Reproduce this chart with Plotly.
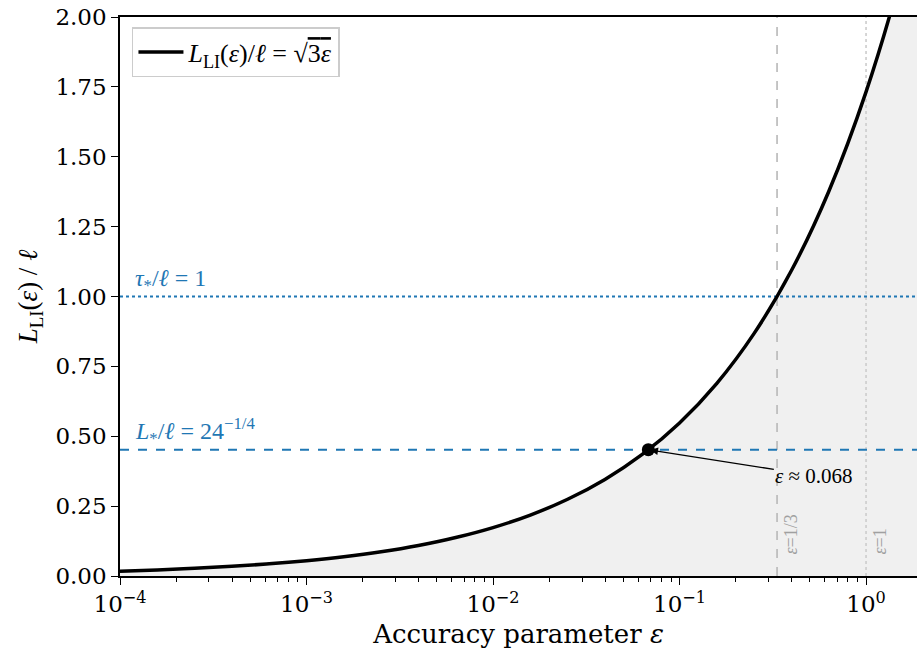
import math
import plotly.graph_objects as go

# ---- data ----
eps = [1.0e-4, 1.585e-4, 2.512e-4, 3.981e-4, 6.310e-4,
       1.0e-3, 1.585e-3, 2.512e-3, 3.981e-3, 6.310e-3,
       1.0e-2, 1.585e-2, 2.512e-2, 3.981e-2, 6.310e-2,
       0.1, 0.1585, 0.2512, 0.3981, 0.6310,
       1.0, 1.585, 2.512]
L_LI = [0.01732, 0.02181, 0.02745, 0.03456, 0.04351,
        0.05477, 0.06895, 0.08681, 0.10928, 0.13758,
        0.17321, 0.21806, 0.27452, 0.34560, 0.43509,
        0.54772, 0.68954, 0.86811, 1.09285, 1.37586,
        1.73205, 2.18060, 2.74500]
tau_level = 1.0
Lstar_level = 0.4518
eps_star = 0.06804
eps_third = 1 / 3
eps_one = 1.0
x_min, x_max = 1e-4, 1.876
y_min, y_max = 0.0, 2.0
y_ticks = [0.0, 0.25, 0.5, 0.75, 1.0, 1.25, 1.5, 1.75, 2.0]
x_ticks = [1e-4, 1e-3, 1e-2, 1e-1, 1e0]
x_ticklabels = ["10<sup>−4</sup>", "10<sup>−3</sup>", "10<sup>−2</sup>",
                "10<sup>−1</sup>", "10<sup>0</sup>"]

BLUE = "#1f77b4"
SERIF = "DejaVu Serif"
MATH = "Liberation Serif"

minor_vals = [m * 10.0 ** k for k in range(-4, 1) for m in range(2, 10)]

fig = go.Figure()

# gray fill under the curve
fig.add_trace(go.Scatter(x=eps, y=L_LI, mode="lines", line=dict(width=0, shape="spline"),
                         fill="tozeroy", fillcolor="#f0f0f0", showlegend=False,
                         hoverinfo="skip"))
# vertical reference lines
fig.add_trace(go.Scatter(x=[eps_third, eps_third], y=[y_min, y_max], mode="lines",
                         line=dict(color="#b8b8b8", width=1.6, dash="dash"),
                         showlegend=False, hoverinfo="skip"))
fig.add_trace(go.Scatter(x=[eps_one, eps_one], y=[y_min, y_max], mode="lines",
                         line=dict(color="#cccccc", width=1.6, dash="dot"),
                         showlegend=False, hoverinfo="skip"))
# horizontal reference lines
fig.add_trace(go.Scatter(x=[x_min, x_max], y=[tau_level, tau_level], mode="lines",
                         line=dict(color=BLUE, width=2, dash="dot"),
                         showlegend=False, hoverinfo="skip"))
fig.add_trace(go.Scatter(x=[x_min, x_max], y=[Lstar_level, Lstar_level], mode="lines",
                         line=dict(color=BLUE, width=2, dash="dash"),
                         showlegend=False, hoverinfo="skip"))
# main curve
fig.add_trace(go.Scatter(x=eps, y=L_LI, mode="lines",
                         line=dict(color="black", width=3.5, shape="spline"),
                         name="<i>L</i><sub>LI</sub>(<i>ε</i>)/<i>ℓ</i> = √<span style='text-decoration:overline'>3<i>ε</i></span>",
                         hoverinfo="skip"))
# intersection marker
fig.add_trace(go.Scatter(x=[eps_star], y=[Lstar_level], mode="markers",
                         marker=dict(color="black", size=13), showlegend=False,
                         hoverinfo="skip"))

annotations = [
    dict(x=math.log10(eps_star), y=Lstar_level, xref="x", yref="y",
         text="<i>ε</i> ≈ 0.068", showarrow=True, arrowhead=2, arrowsize=1.1,
         arrowwidth=1.4, arrowcolor="black", ax=166, ay=26,
         font=dict(family=MATH, size=21, color="black"), standoff=2),
    dict(x=0.016, y=tau_level, xref="paper", yref="y", text="<i>τ</i><sub>*</sub>/<i>ℓ</i> = 1",
         showarrow=False, xanchor="left", yanchor="bottom", yshift=0,
         font=dict(family=MATH, size=24, color=BLUE)),
    dict(x=0.016, y=Lstar_level, xref="paper", yref="y",
         text="<i>L</i><sub>*</sub>/<i>ℓ</i> = 24<sup>−1/4</sup>",
         showarrow=False, xanchor="left", yanchor="bottom", yshift=0,
         font=dict(family=MATH, size=24, color=BLUE)),
    dict(x=math.log10(eps_third), y=0.07, xref="x", yref="y", text="<i>ε</i>=1/3",
         showarrow=False, textangle=-90, xanchor="left", yanchor="bottom", xshift=2,
         font=dict(family=MATH, size=18, color="#a0a0a0")),
    dict(x=math.log10(eps_one), y=0.07, xref="x", yref="y", text="<i>ε</i>=1",
         showarrow=False, textangle=-90, xanchor="left", yanchor="bottom", xshift=2,
         font=dict(family=MATH, size=18, color="#a0a0a0")),
]

fig.update_layout(
    width=917, height=654,
    margin=dict(l=120, r=0, t=17, b=78),
    paper_bgcolor="white", plot_bgcolor="white",
    font=dict(family=SERIF, size=23, color="black"),
    annotations=annotations,
    legend=dict(x=0.015, y=0.982, xanchor="left", yanchor="top",
                bgcolor="white", bordercolor="#cccccc", borderwidth=1.5,
                itemwidth=45, font=dict(family=MATH, size=26)),
    xaxis=dict(type="log", range=[math.log10(x_min), math.log10(x_max)],
               automargin=False, ticklabeloverflow="allow",
               showgrid=False, zeroline=False, showline=True, linecolor="black",
               linewidth=1.5, mirror=True, ticks="outside", ticklen=7, tickwidth=1.4,
               tickcolor="black", tickvals=x_ticks, ticktext=x_ticklabels,
               minor=dict(tickvals=minor_vals, ticks="outside", ticklen=4,
                          tickwidth=1, tickcolor="black", showgrid=False),
               title=dict(text="Accuracy parameter <i>ε</i>", font=dict(size=26), standoff=8)),
    yaxis=dict(range=[y_min, y_max], automargin=False, ticklabeloverflow="allow",
               showgrid=False, zeroline=False, showline=True,
               linecolor="black", linewidth=1.5, ticks="outside", ticklen=7,
               tickwidth=1.4, tickcolor="black", tickvals=y_ticks,
               tickformat=".2f",
               title=dict(text="<i>L</i><sub>LI</sub>(<i>ε</i>) / <i>ℓ</i>",
                          font=dict(family=MATH, size=27), standoff=10)),
)

# remove the default page margin so the figure sits at the window's top-left corner
fig.write_html("out.html", config={"displayModeBar": False},
               post_script="document.body.style.margin='0px';")
